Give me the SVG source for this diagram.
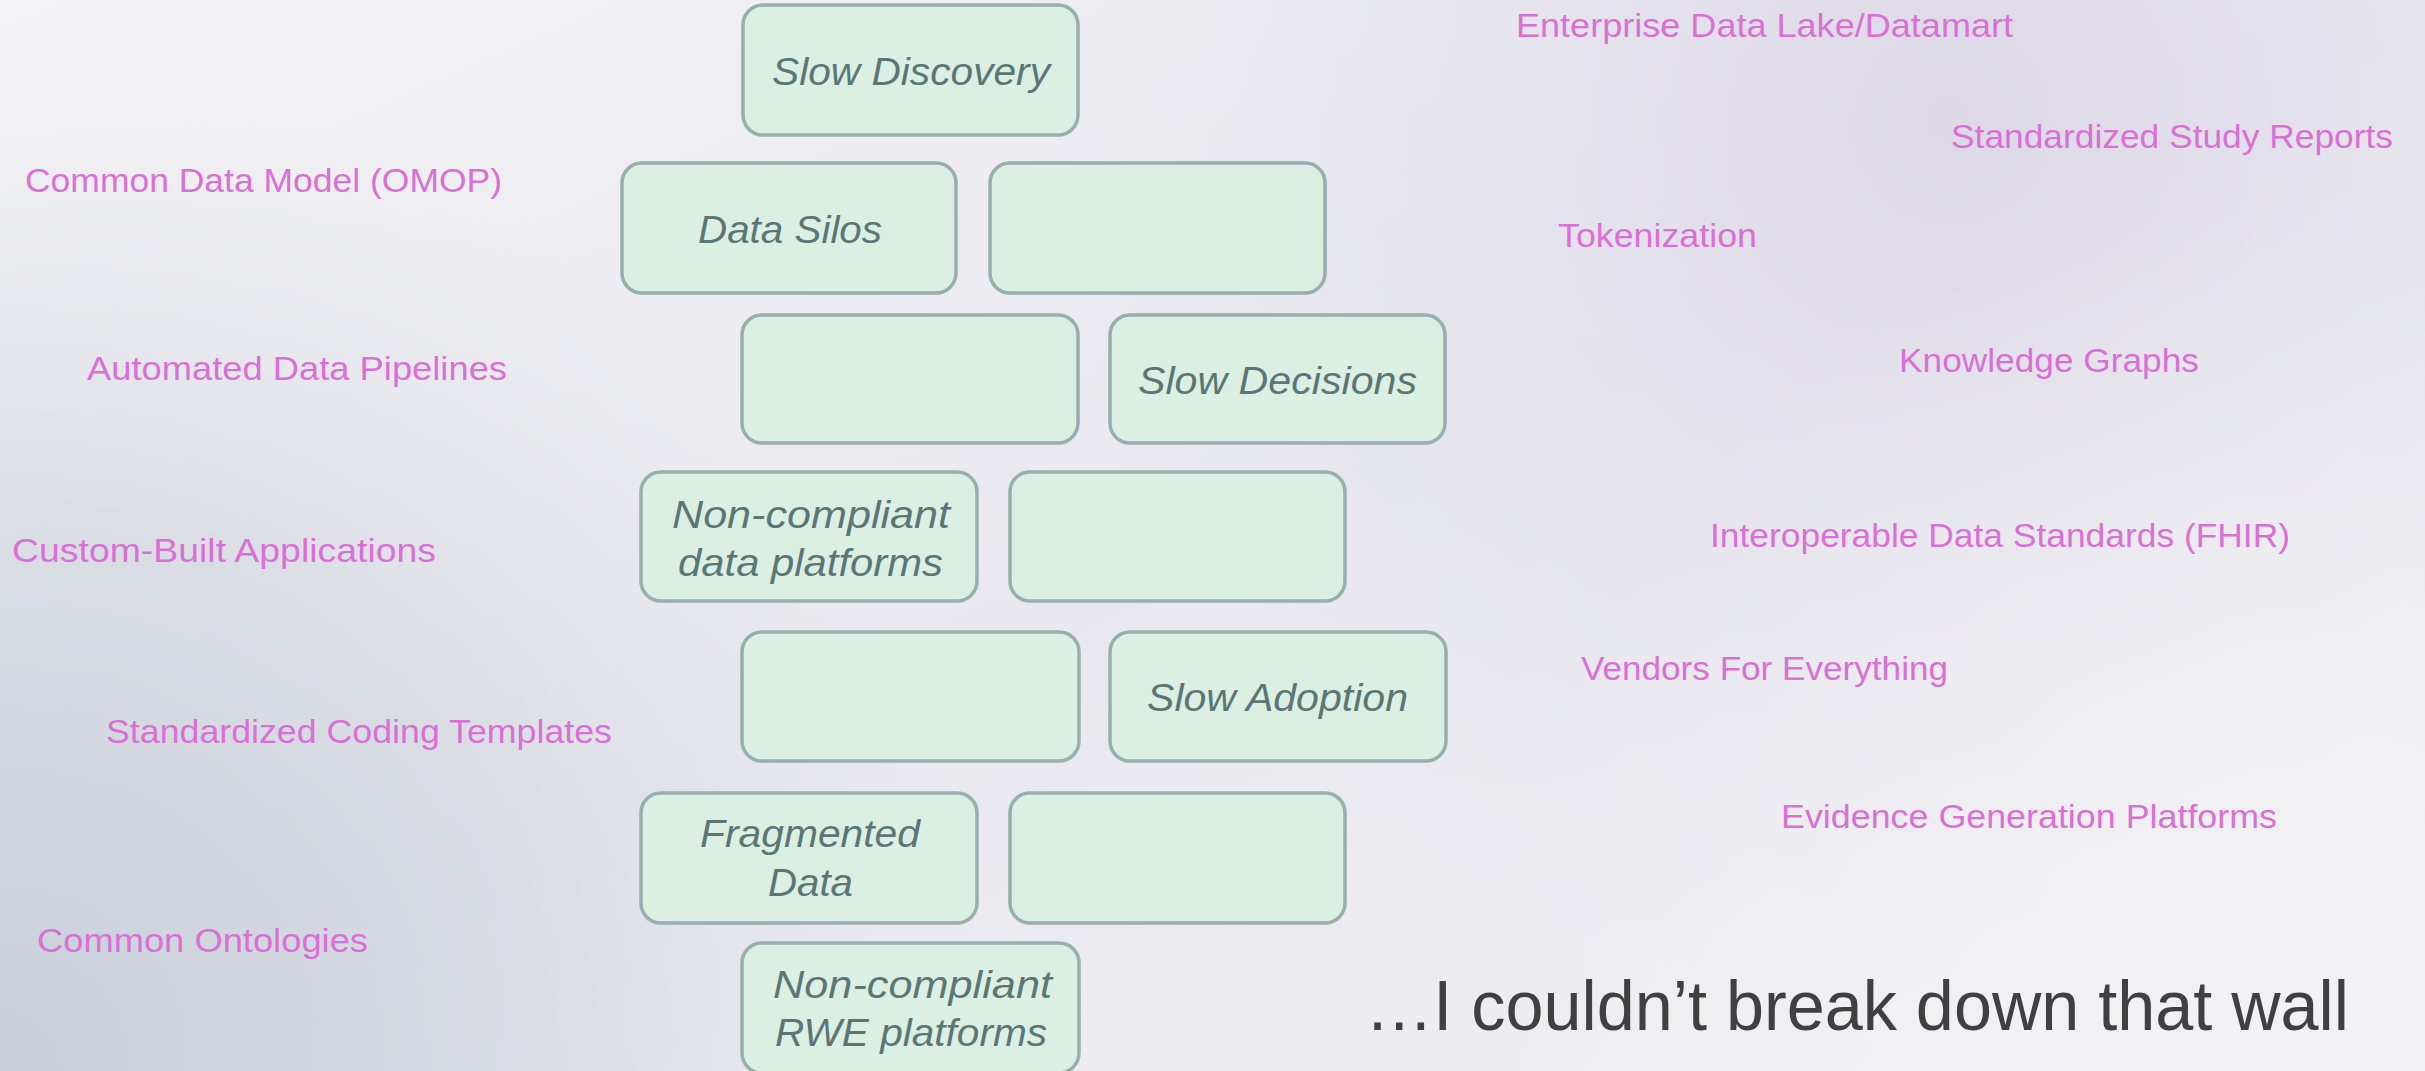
<svg xmlns="http://www.w3.org/2000/svg" width="2425" height="1071" viewBox="0 0 2425 1071">
<defs>
<linearGradient id="bg" x1="0" y1="0" x2="1" y2="1">
<stop offset="0" stop-color="#f3f3f5"/>
<stop offset="0.5" stop-color="#e8e8ee"/>
<stop offset="1" stop-color="#f1f1f4"/>
</linearGradient>
<radialGradient id="bl" cx="0" cy="1071" r="1000" gradientUnits="userSpaceOnUse">
<stop offset="0" stop-color="#c8cfd9" stop-opacity="1"/>
<stop offset="0.55" stop-color="#d2d7df" stop-opacity="0.7"/>
<stop offset="1" stop-color="#e6e6ec" stop-opacity="0"/>
</radialGradient>
<radialGradient id="tr" cx="1950" cy="120" r="900" gradientUnits="userSpaceOnUse">
<stop offset="0" stop-color="#dcd8e6" stop-opacity="1"/>
<stop offset="1" stop-color="#e6e4ee" stop-opacity="0"/>
</radialGradient>
<radialGradient id="br" cx="2300" cy="1000" r="800" gradientUnits="userSpaceOnUse">
<stop offset="0" stop-color="#f2f2f4" stop-opacity="1"/>
<stop offset="1" stop-color="#f2f2f4" stop-opacity="0"/>
</radialGradient>
</defs>
<style>
.box{fill:#dcefe3;stroke:#98afaf;stroke-width:3.5}
.bt{font-family:"Liberation Sans","Open Sans",sans-serif;font-style:italic;font-size:38px;fill:#5a7776}
.lb{font-family:"Liberation Sans","Open Sans",sans-serif;font-size:33px;fill:#da70d6}
.ft{font-family:"Liberation Sans","Open Sans",sans-serif;font-size:70px;fill:#404040}
</style>
<g id="background">
<rect x="0" y="0" width="2425" height="1071" fill="url(#bg)"/>
<rect x="0" y="0" width="2425" height="1071" fill="url(#tr)"/>
<rect x="0" y="0" width="2425" height="1071" fill="url(#bl)"/>
<rect x="0" y="0" width="2425" height="1071" fill="url(#br)"/>
</g>
<g id="connectors"></g>
<g id="node-slow-discovery"><rect class="box" x="743" y="5" width="335" height="130" rx="20"/><text class="bt" x="772" y="85" textLength="278" lengthAdjust="spacingAndGlyphs">Slow Discovery</text></g>
<g id="node-data-silos"><rect class="box" x="622" y="163" width="334" height="130" rx="20"/><text class="bt" x="698" y="243" textLength="184" lengthAdjust="spacingAndGlyphs">Data Silos</text></g>
<g id="node-empty-1"><rect class="box" x="990" y="163" width="335" height="130" rx="20"/></g>
<g id="node-empty-2"><rect class="box" x="742" y="315" width="336" height="128" rx="20"/></g>
<g id="node-slow-decisions"><rect class="box" x="1110" y="315" width="335" height="128" rx="20"/><text class="bt" x="1138" y="394" textLength="279" lengthAdjust="spacingAndGlyphs">Slow Decisions</text></g>
<g id="node-noncompliant-data"><rect class="box" x="641" y="472" width="336" height="129" rx="20"/><text class="bt" x="672" y="528" textLength="278" lengthAdjust="spacingAndGlyphs">Non-compliant</text><text class="bt" x="678" y="576" textLength="265" lengthAdjust="spacingAndGlyphs">data platforms</text></g>
<g id="node-empty-3"><rect class="box" x="1010" y="472" width="335" height="129" rx="20"/></g>
<g id="node-empty-4"><rect class="box" x="742" y="632" width="337" height="129" rx="20"/></g>
<g id="node-slow-adoption"><rect class="box" x="1110" y="632" width="336" height="129" rx="20"/><text class="bt" x="1147" y="711" textLength="261" lengthAdjust="spacingAndGlyphs">Slow Adoption</text></g>
<g id="node-fragmented-data"><rect class="box" x="641" y="793" width="336" height="130" rx="20"/><text class="bt" x="700" y="847" textLength="220" lengthAdjust="spacingAndGlyphs">Fragmented</text><text class="bt" x="768" y="896" textLength="85" lengthAdjust="spacingAndGlyphs">Data</text></g>
<g id="node-empty-5"><rect class="box" x="1010" y="793" width="335" height="130" rx="20"/></g>
<g id="node-noncompliant-rwe"><rect class="box" x="742" y="943" width="337" height="130" rx="20"/><text class="bt" x="773" y="998" textLength="279" lengthAdjust="spacingAndGlyphs">Non-compliant</text><text class="bt" x="775" y="1046" textLength="272" lengthAdjust="spacingAndGlyphs">RWE platforms</text></g>
<g id="labels">
<text class="lb" x="1516" y="37" textLength="497" lengthAdjust="spacingAndGlyphs">Enterprise Data Lake/Datamart</text>
<text class="lb" x="1951" y="148" textLength="442" lengthAdjust="spacingAndGlyphs">Standardized Study Reports</text>
<text class="lb" x="25" y="192" textLength="477" lengthAdjust="spacingAndGlyphs">Common Data Model (OMOP)</text>
<text class="lb" x="1558" y="247" textLength="199" lengthAdjust="spacingAndGlyphs">Tokenization</text>
<text class="lb" x="87" y="380" textLength="420" lengthAdjust="spacingAndGlyphs">Automated Data Pipelines</text>
<text class="lb" x="1899" y="372" textLength="300" lengthAdjust="spacingAndGlyphs">Knowledge Graphs</text>
<text class="lb" x="1710" y="547" textLength="580" lengthAdjust="spacingAndGlyphs">Interoperable Data Standards (FHIR)</text>
<text class="lb" x="12" y="562" textLength="424" lengthAdjust="spacingAndGlyphs">Custom-Built Applications</text>
<text class="lb" x="1581" y="680" textLength="367" lengthAdjust="spacingAndGlyphs">Vendors For Everything</text>
<text class="lb" x="106" y="743" textLength="506" lengthAdjust="spacingAndGlyphs">Standardized Coding Templates</text>
<text class="lb" x="1781" y="828" textLength="496" lengthAdjust="spacingAndGlyphs">Evidence Generation Platforms</text>
<text class="lb" x="37" y="952" textLength="331" lengthAdjust="spacingAndGlyphs">Common Ontologies</text>
</g>
<g id="caption"><text class="ft" x="1365" y="1030" textLength="984" lengthAdjust="spacingAndGlyphs">…I couldn’t break down that wall</text></g>
</svg>
